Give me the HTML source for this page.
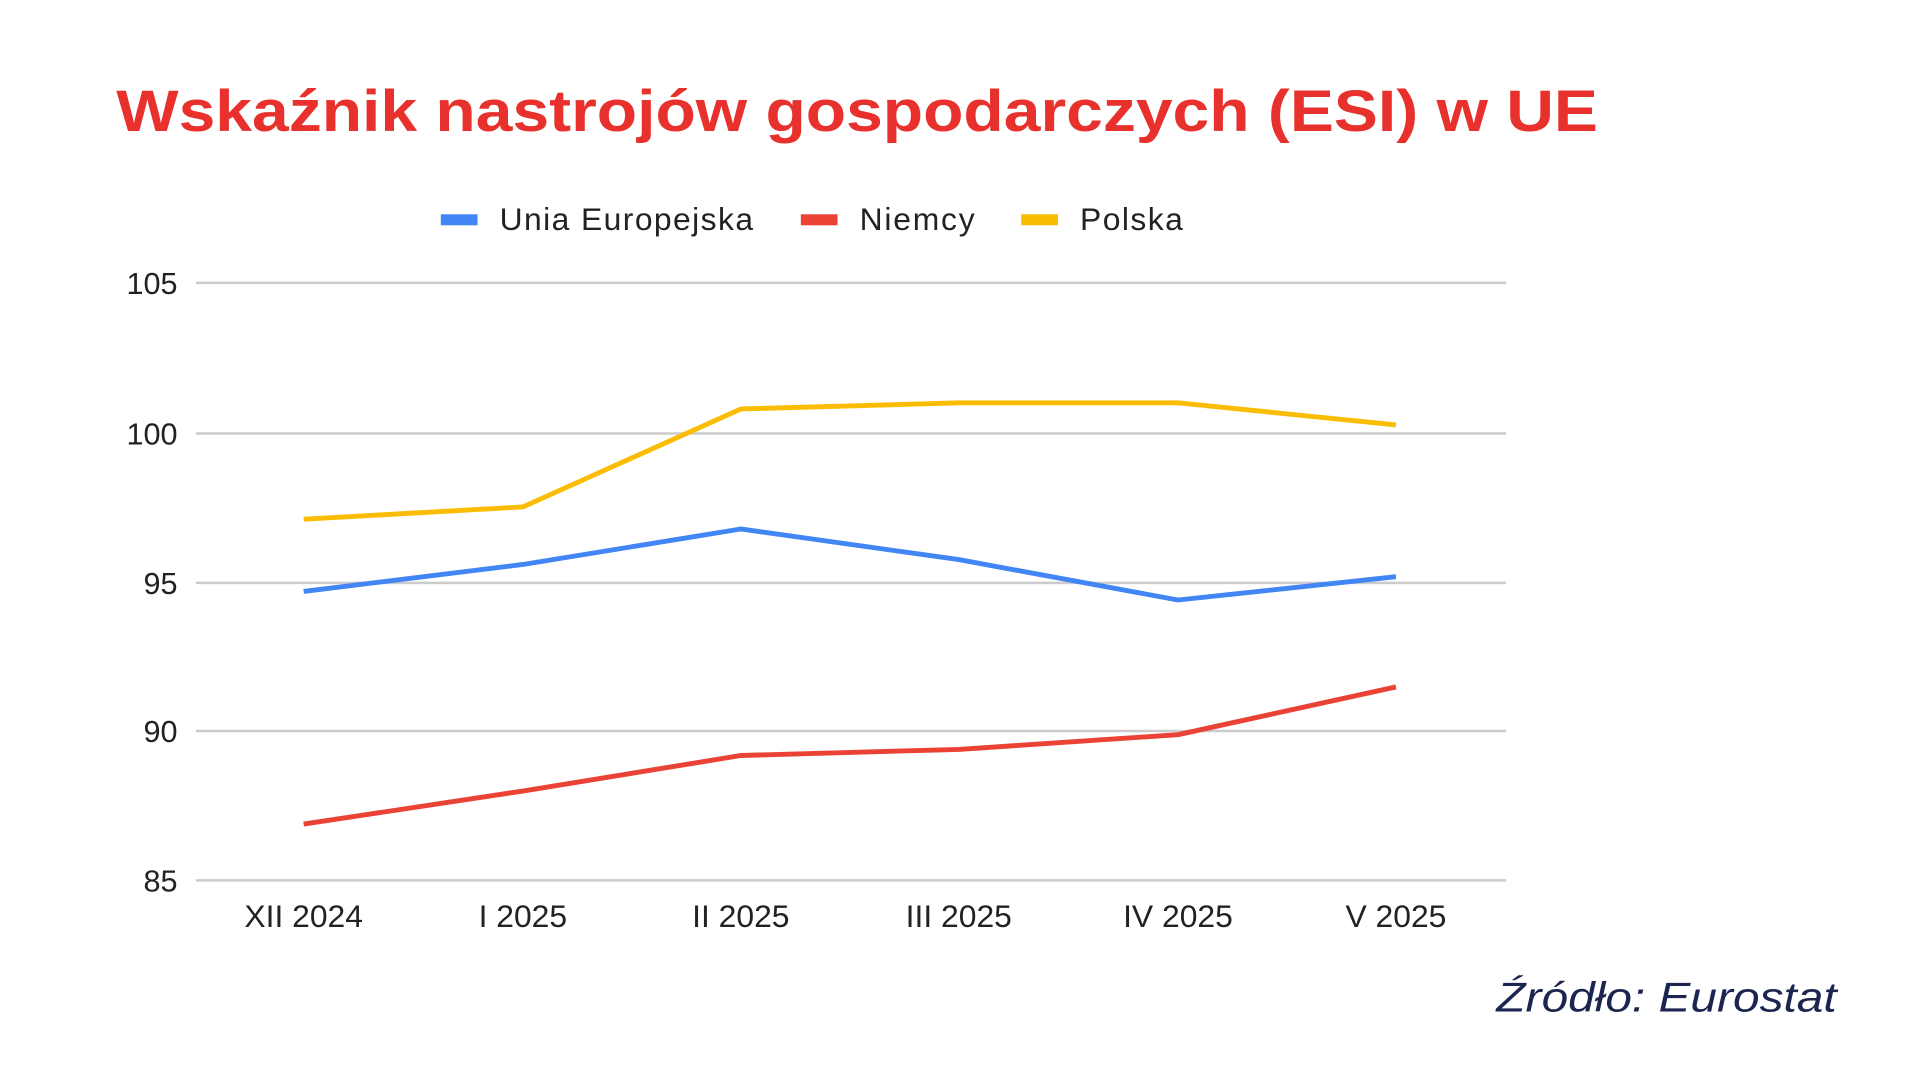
<!DOCTYPE html>
<html><head><meta charset="utf-8"><style>
html,body{margin:0;padding:0;background:#fff;}
svg{display:block;}
</style></head><body>
<svg width="1920" height="1080" viewBox="0 0 1568 882" xmlns="http://www.w3.org/2000/svg">
<rect width="1568" height="882" fill="#fff"/>
<text x="95" y="107" font-family="Liberation Sans, sans-serif" font-weight="bold" font-size="48" fill="#e8302c" textLength="1210" lengthAdjust="spacingAndGlyphs">Wskaźnik nastrojów gospodarczych (ESI) w UE</text>
<g font-family="Liberation Sans, sans-serif" font-size="26" fill="#222">
<rect x="360" y="175" width="30" height="9" fill="#4285f4"/><text x="408" y="188" textLength="207">Unia Europejska</text>
<rect x="654" y="175" width="30" height="9" fill="#ea4335"/><text x="702" y="188" textLength="94">Niemcy</text>
<rect x="834" y="175" width="30" height="9" fill="#fbbc04"/><text x="882" y="188" textLength="84">Polska</text>
</g>
<g stroke="#cccccc" stroke-width="2">
<line x1="160" x2="1230" y1="231" y2="231"/><line x1="160" x2="1230" y1="354" y2="354"/>
<line x1="160" x2="1230" y1="476" y2="476"/><line x1="160" x2="1230" y1="597" y2="597"/>
<line x1="160" x2="1230" y1="719" y2="719"/>
</g>
<g font-family="Liberation Sans, sans-serif" font-size="25" fill="#222" text-anchor="end">
<text x="145" y="240">105</text><text x="145" y="363">100</text><text x="145" y="485">95</text>
<text x="145" y="606">90</text><text x="145" y="728">85</text>
</g>
<g font-family="Liberation Sans, sans-serif" font-size="26" fill="#222" text-anchor="middle">
<text x="248" y="757">XII 2024</text><text x="427" y="757">I 2025</text><text x="605" y="757">II 2025</text>
<text x="783" y="757">III 2025</text><text x="962" y="757">IV 2025</text><text x="1140" y="757">V 2025</text>
</g>
<g fill="none" stroke-width="4" stroke-linejoin="round">
<polyline stroke="#fbbc04" points="248,424 427,414 605,334 783,329 962,329 1140,347"/>
<polyline stroke="#4285f4" points="248,483 427,461 605,432 783,457 962,490 1140,471"/>
<polyline stroke="#ea4335" points="248,673 427,646 605,617 783,612 962,600 1140,561"/>
</g>
<text x="1222" y="826" font-family="Liberation Sans, sans-serif" font-style="italic" font-size="34" fill="#1b2550" textLength="278" lengthAdjust="spacingAndGlyphs">Źródło: Eurostat</text>
</svg>
</body></html>
